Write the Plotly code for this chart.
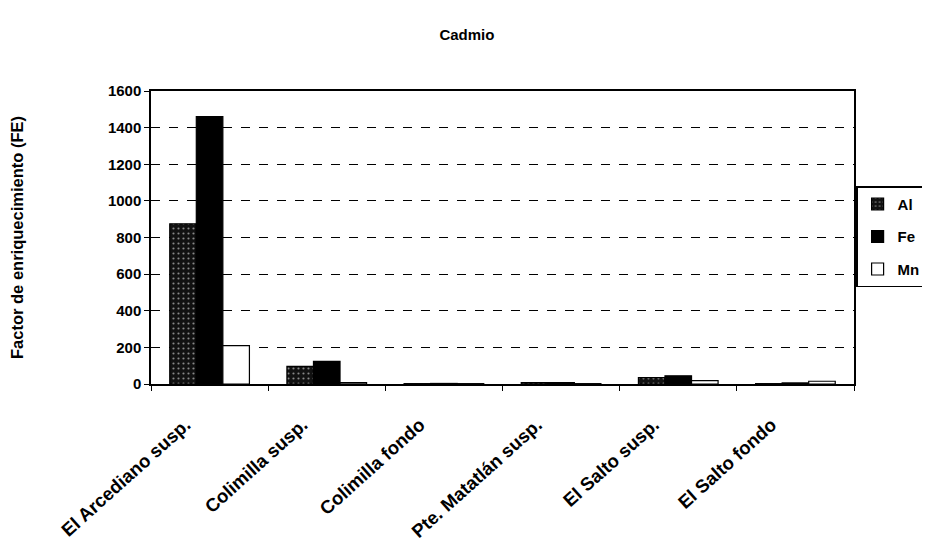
import plotly.graph_objects as go

categories = ["El Arcediano susp.", "Colimilla susp.", "Colimilla fondo",
              "Pte. Matatlán susp.", "El Salto susp.", "El Salto fondo"]
al_values = [875, 96, 2, 8, 35, 2]
fe_values = [1460, 124, 3, 8, 45, 6]
mn_values = [210, 8, 2, 2, 18, 15]
y_ticks = [0, 200, 400, 600, 800, 1000, 1200, 1400, 1600]

FONT = "Liberation Sans, Arial, sans-serif"

fig = go.Figure()
fig.add_trace(go.Bar(name="Al", x=categories, y=al_values, legendgroup="al",
                     marker=dict(color="#111111", line=dict(color="black", width=1.2),
                                 pattern=dict(shape=".", fgcolor="white", size=5, solidity=0.15))))
fig.add_trace(go.Bar(name="Fe", x=categories, y=fe_values, legendgroup="fe",
                     marker=dict(color="black", line=dict(color="black", width=1.2))))
fig.add_trace(go.Bar(name="Mn", x=categories, y=mn_values, legendgroup="mn",
                     marker=dict(color="white", line=dict(color="black", width=1.2))))

fig.update_layout(
    width=930, height=548,
    paper_bgcolor="white", plot_bgcolor="white",
    margin=dict(l=143, r=84, t=83, b=172, autoexpand=False),
    barmode="group", bargap=0.32, bargroupgap=0,
    title=dict(text="<b>Cadmio</b>", x=0.4935, xanchor="center", y=0.951, yanchor="middle",
               font=dict(family=FONT, size=15, color="black")),
    font=dict(family=FONT, color="black"),
    legend=dict(x=1.003, xanchor="left", y=0.675, yanchor="top",
                bordercolor="black", borderwidth=1.5, bgcolor="white",
                font=dict(family=FONT, size=15, color="black", weight="bold"),
                tracegroupgap=10, itemwidth=30),
    showlegend=True,
)
fig.update_yaxes(range=[0, 1600], tickvals=y_ticks, ticktext=[str(v) for v in y_ticks],
                 showgrid=True, gridcolor="black", griddash="dash", gridwidth=1.2,
                 showline=True, linecolor="black", linewidth=1.5, mirror=True,
                 ticks="outside", ticklen=5, tickcolor="black", automargin=False,
                 tickfont=dict(family=FONT, size=15, color="black", weight="bold"),
                 title=dict(text="<b>Factor de enriquecimiento (FE)</b>", standoff=80,
                            font=dict(family=FONT, size=16.5, color="black")),
                 zeroline=False)
fig.update_xaxes(showline=True, linecolor="black", linewidth=1.5, mirror=True,
                 ticks="outside", ticklen=5, tickcolor="black", tickson="boundaries",
                 tickangle=-42, automargin=False, ticklabelstandoff=21, ticklabelshift=-24,
                 tickfont=dict(family=FONT, size=18.5, color="black", weight="bold"))

fig.write_html("out.html")
